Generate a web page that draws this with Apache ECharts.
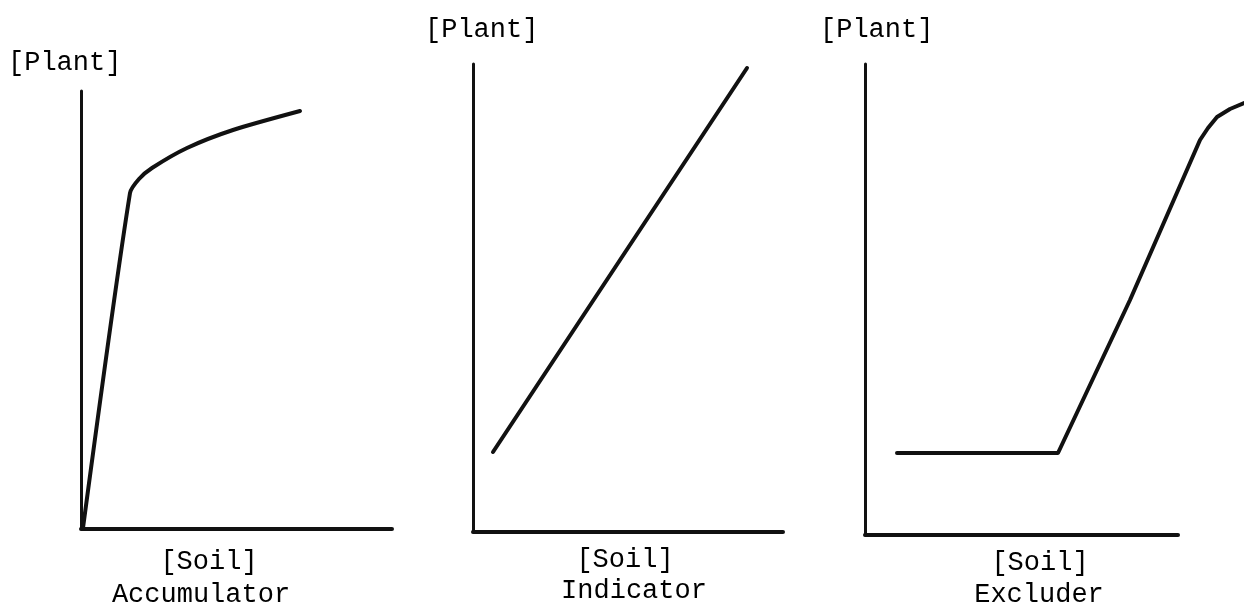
<!DOCTYPE HTML>
<html>
<head>
    <meta charset="utf-8">
    <title>Plant vs Soil</title>
    <script src="https://cdn.jsdelivr.net/npm/echarts@6/dist/echarts.min.js"></script>
    <style>
        html, body { margin: 0; padding: 0; background: #fff; }
        #container { width: 1244px; height: 605px; }
    </style>
</head>
<body>
<div id="container"></div>
<script type="text/javascript">
    // values, [soil, plant] in axis units
    var accumulatorData = [[2, 1], [49, 336], [58, 350], [71, 361], [106, 381], [152, 399], [219, 418]];
    var indicatorData = [[20, 80], [274, 464]];
    var excluderData = [[32, 82], [193, 82], [265, 235], [335, 395], [343, 407], [352, 418], [365, 426], [379, 432]];

    var panelNames = ['Accumulator', 'Indicator', 'Excluder'];
    var xMax = [311, 310, 313];
    var yMax = [438, 468, 471];

    var font = '"Liberation Mono", "DejaVu Sans Mono", monospace';

    var dom = document.getElementById("container");
    var myChart = echarts.init(dom);

    function txt(str, x, y, align) {
        return {
            type: 'text',
            x: x,
            y: y,
            style: {
                text: str,
                font: '27px ' + font,
                fill: '#000',
                align: align || 'center',
                verticalAlign: 'middle'
            }
        };
    }

    var axisX = function (i, max, show) {
        return {
            type: 'value', gridIndex: i, min: 0, max: max,
            axisLine: {show: show, lineStyle: {color: '#111', width: 4, cap: 'round'}},
            axisTick: {show: false}, axisLabel: {show: false}, splitLine: {show: false}
        };
    };
    var axisY = function (i, max, show) {
        return {
            type: 'value', gridIndex: i, min: 0, max: max,
            axisLine: {show: show, lineStyle: {color: '#111', width: 3, cap: 'round'}},
            axisTick: {show: false}, axisLabel: {show: false}, splitLine: {show: false}
        };
    };
    var lineSeries = function (i, data, smooth) {
        return {
            type: 'line', xAxisIndex: i, yAxisIndex: i,
            data: data, showSymbol: false, smooth: smooth, clip: false,
            lineStyle: {color: '#111', width: 4, cap: 'round', join: 'round'}
        };
    };

    var option = {
        backgroundColor: '#fff',
        animation: false,
        grid: [
            {left: 81, top: 91, width: 311, height: 438},
            {left: 473, top: 64, width: 310, height: 468},
            {left: 865, top: 64, width: 313, height: 471},
            // same scale as the third panel, reaching the page edge so the curve runs off it
            {left: 865, top: 64, width: 379, height: 471}
        ],
        xAxis: [axisX(0, xMax[0], true), axisX(1, xMax[1], true), axisX(2, xMax[2], true), axisX(3, 379, false)],
        yAxis: [axisY(0, yMax[0], true), axisY(1, yMax[1], true), axisY(2, yMax[2], true), axisY(3, yMax[2], false)],
        series: [
            lineSeries(0, accumulatorData, 0.25),
            lineSeries(1, indicatorData, false),
            lineSeries(3, excluderData, false)
        ],
        graphic: [
            txt('[Plant]', 8, 63, 'left'),
            txt('[Soil]', 209, 562),
            txt(panelNames[0], 201, 595),
            txt('[Plant]', 425, 30, 'left'),
            txt('[Soil]', 625, 560),
            txt(panelNames[1], 634, 591),
            txt('[Plant]', 820, 30, 'left'),
            txt('[Soil]', 1040, 563),
            txt(panelNames[2], 1039, 595)
        ]
    };

    myChart.setOption(option, true);
</script>
</body>
</html>
